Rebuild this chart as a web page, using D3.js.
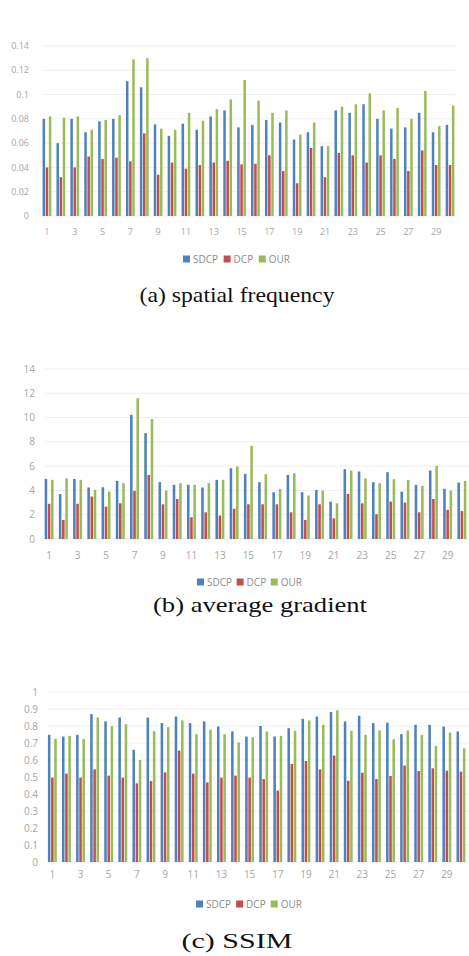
<!DOCTYPE html>
<html><head><meta charset="utf-8">
<script src="https://cdn.jsdelivr.net/npm/d3@7"></script>
<style>body{margin:0;background:#fff}svg{display:block}</style>
</head><body>
<svg id="chart" width="469" height="956"></svg>
<script>
const categories = [1,2,3,4,5,6,7,8,9,10,11,12,13,14,15,16,17,18,19,20,21,22,23,24,25,26,27,28,29,30];
const xTickLabels = [1,3,5,7,9,11,13,15,17,19,21,23,25,27,29];
const seriesNames = ["SDCP","DCP","OUR"];
const seriesColors = ["#4F81BD","#C0504D","#9BBB59"];

// (a) spatial frequency
const sfSDCP = [0.080,0.060,0.080,0.069,0.078,0.080,0.111,0.106,0.0755,0.066,0.076,0.071,0.082,0.087,0.073,0.075,0.079,0.077,0.063,0.069,0.0575,0.087,0.085,0.092,0.080,0.072,0.073,0.085,0.069,0.075];
const sfDCP  = [0.040,0.032,0.040,0.049,0.047,0.048,0.045,0.068,0.034,0.044,0.039,0.042,0.044,0.0455,0.0425,0.043,0.050,0.037,0.027,0.056,0.032,0.052,0.050,0.044,0.050,0.047,0.037,0.054,0.042,0.042];
const sfOUR  = [0.082,0.081,0.082,0.071,0.079,0.083,0.129,0.130,0.072,0.071,0.085,0.0785,0.088,0.096,0.112,0.095,0.085,0.087,0.067,0.077,0.0575,0.090,0.092,0.101,0.087,0.089,0.080,0.103,0.074,0.091];
const sfTicks = [0,0.02,0.04,0.06,0.08,0.1,0.12,0.14];
const sfTickLabels = ["0","0.02","0.04","0.06","0.08","0.1","0.12","0.14"];

// (b) average gradient
const agSDCP = [4.95,3.7,4.95,4.24,4.26,4.79,10.23,8.72,4.68,4.46,4.46,4.24,4.87,5.83,5.36,4.68,3.85,5.28,3.85,4.04,3.08,5.75,5.56,4.68,5.5,3.9,4.46,5.64,4.13,4.65];
const agDCP  = [2.9,1.57,2.9,3.5,2.67,2.94,3.96,5.28,2.86,3.3,1.79,2.2,1.93,2.48,2.86,2.86,2.86,2.2,1.57,2.86,1.7,3.71,2.94,2.04,3.08,3.0,2.2,3.3,2.4,2.31];
const agOUR  = [4.87,5.0,4.87,4.04,3.9,4.6,11.6,9.88,3.99,4.6,4.46,4.6,4.87,5.97,7.67,5.34,4.13,5.42,3.58,3.99,2.94,5.64,5.0,4.6,4.92,4.87,4.37,6.02,3.99,4.79];
const agTicks = [0,2,4,6,8,10,12,14];
const agTickLabels = ["0","2","4","6","8","10","12","14"];

// (c) SSIM
const ssSDCP = [0.748,0.738,0.748,0.87,0.827,0.85,0.66,0.85,0.817,0.856,0.817,0.827,0.797,0.768,0.738,0.80,0.738,0.787,0.842,0.856,0.882,0.827,0.86,0.817,0.82,0.752,0.807,0.807,0.797,0.768];
const ssDCP  = [0.496,0.52,0.496,0.545,0.508,0.496,0.463,0.476,0.527,0.655,0.52,0.468,0.496,0.508,0.496,0.488,0.42,0.577,0.594,0.545,0.626,0.478,0.525,0.488,0.506,0.567,0.535,0.551,0.537,0.531];
const ssOUR  = [0.724,0.742,0.724,0.85,0.80,0.81,0.60,0.77,0.793,0.833,0.752,0.778,0.752,0.703,0.734,0.768,0.742,0.772,0.833,0.807,0.892,0.772,0.748,0.774,0.722,0.774,0.748,0.683,0.762,0.669];
const ssTicks = [0,0.1,0.2,0.3,0.4,0.5,0.6,0.7,0.8,0.9,1];
const ssTickLabels = ["0","0.1","0.2","0.3","0.4","0.5","0.6","0.7","0.8","0.9","1"];

const panels = [
  {series:[sfSDCP,sfDCP,sfOUR], ticks:sfTicks, tickLabels:sfTickLabels, max:0.14,
   x0:40, x1:457, yBottom:216, yTop:46, gridX0:43, gridX1:455, labelX:29, tickFont:9,
   xLabelY:232, legendY:259, legendX0:183, legendX1:290,
   caption:"(a) spatial frequency", capX:237, capY:302, capSize:22, capLen:195},
  {series:[agSDCP,agDCP,agOUR], ticks:agTicks, tickLabels:agTickLabels, max:14,
   x0:42, x1:469, yBottom:539, yTop:369, gridX0:45, gridX1:469, labelX:35, tickFont:10,
   xLabelY:555, legendY:582, legendX0:197, legendX1:302,
   caption:"(b) average gradient", capX:260, capY:612, capSize:21, capLen:214},
  {series:[ssSDCP,ssDCP,ssOUR], ticks:ssTicks, tickLabels:ssTickLabels, max:1,
   x0:45.3, x1:468, yBottom:862, yTop:692, gridX0:48, gridX1:469, labelX:38, tickFont:10,
   xLabelY:874, legendY:904, legendX0:196, legendX1:302,
   caption:"(c) SSIM", capX:237, capY:948, capSize:20, capLen:111}
];

const svg = d3.select("#chart");
const sans = "'Open Sans', 'Noto Sans', sans-serif";

panels.forEach(p => {
  const g = svg.append("g");
  const x = d3.scaleBand().domain(categories).range([p.x0, p.x1]).paddingInner(0.28).paddingOuter(0.14);
  const xs = d3.scaleBand().domain(seriesNames).range([0, x.bandwidth()]).padding(0.2);
  const y = d3.scaleLinear().domain([0, p.max]).range([p.yBottom, p.yTop]);

  // gridlines
  g.selectAll("line.grid").data(p.ticks).join("line")
    .attr("x1", p.gridX0).attr("x2", p.gridX1)
    .attr("y1", d => y(d)).attr("y2", d => y(d))
    .attr("stroke", "#efefef").attr("stroke-width", 1);

  // y tick labels
  g.selectAll("text.ytick").data(p.ticks).join("text")
    .attr("x", p.labelX).attr("y", d => y(d)).attr("dy", "0.35em")
    .attr("text-anchor", "end")
    .attr("font-family", sans).attr("font-size", p.tickFont).attr("fill", "#a6a6a6")
    .text((d, i) => p.tickLabels[i]);

  // bars
  seriesNames.forEach((s, si) => {
    g.selectAll("rect.s" + si).data(categories).join("rect")
      .attr("x", d => x(d) + xs(s))
      .attr("width", xs.bandwidth())
      .attr("y", (d, i) => y(p.series[si][i]))
      .attr("height", (d, i) => y(0) - y(p.series[si][i]))
      .attr("fill", seriesColors[si]);
  });

  // x tick labels
  g.selectAll("text.xtick").data(xTickLabels).join("text")
    .attr("x", d => x(d) + x.bandwidth() / 2).attr("y", p.xLabelY).attr("dy", "0.35em")
    .attr("text-anchor", "middle")
    .attr("font-family", sans).attr("font-size", p.tickFont).attr("fill", "#a6a6a6")
    .text(d => d);

  // legend
  const lg = g.append("g");
  const sq = 7, gapIn = 3;
  const items = seriesNames.map((s, i) => {
    const it = lg.append("g");
    it.append("rect").attr("width", sq).attr("height", sq).attr("y", p.legendY - sq / 2).attr("fill", seriesColors[i]);
    const t = it.append("text").attr("x", sq + gapIn).attr("y", p.legendY).attr("dy", "0.35em")
      .attr("font-family", sans).attr("font-size", 10).attr("fill", "#8c8c8c").text(s);
    return {it, w: sq + gapIn + t.node().getComputedTextLength()};
  });
  const totalW = d3.sum(items, d => d.w);
  const gap = Math.max(3, ((p.legendX1 - p.legendX0) - totalW) / 2);
  let cx = p.legendX0;
  items.forEach(d => { d.it.attr("transform", `translate(${cx},0)`); cx += d.w + gap; });

  // caption
  g.append("text").attr("x", p.capX).attr("y", p.capY)
    .attr("text-anchor", "middle")
    .attr("font-family", "'Liberation Serif', 'Times New Roman', serif")
    .attr("font-size", p.capSize).attr("fill", "#111")
    .attr("textLength", p.capLen).attr("lengthAdjust", "spacingAndGlyphs")
    .text(p.caption);
});
</script>
</body></html>
